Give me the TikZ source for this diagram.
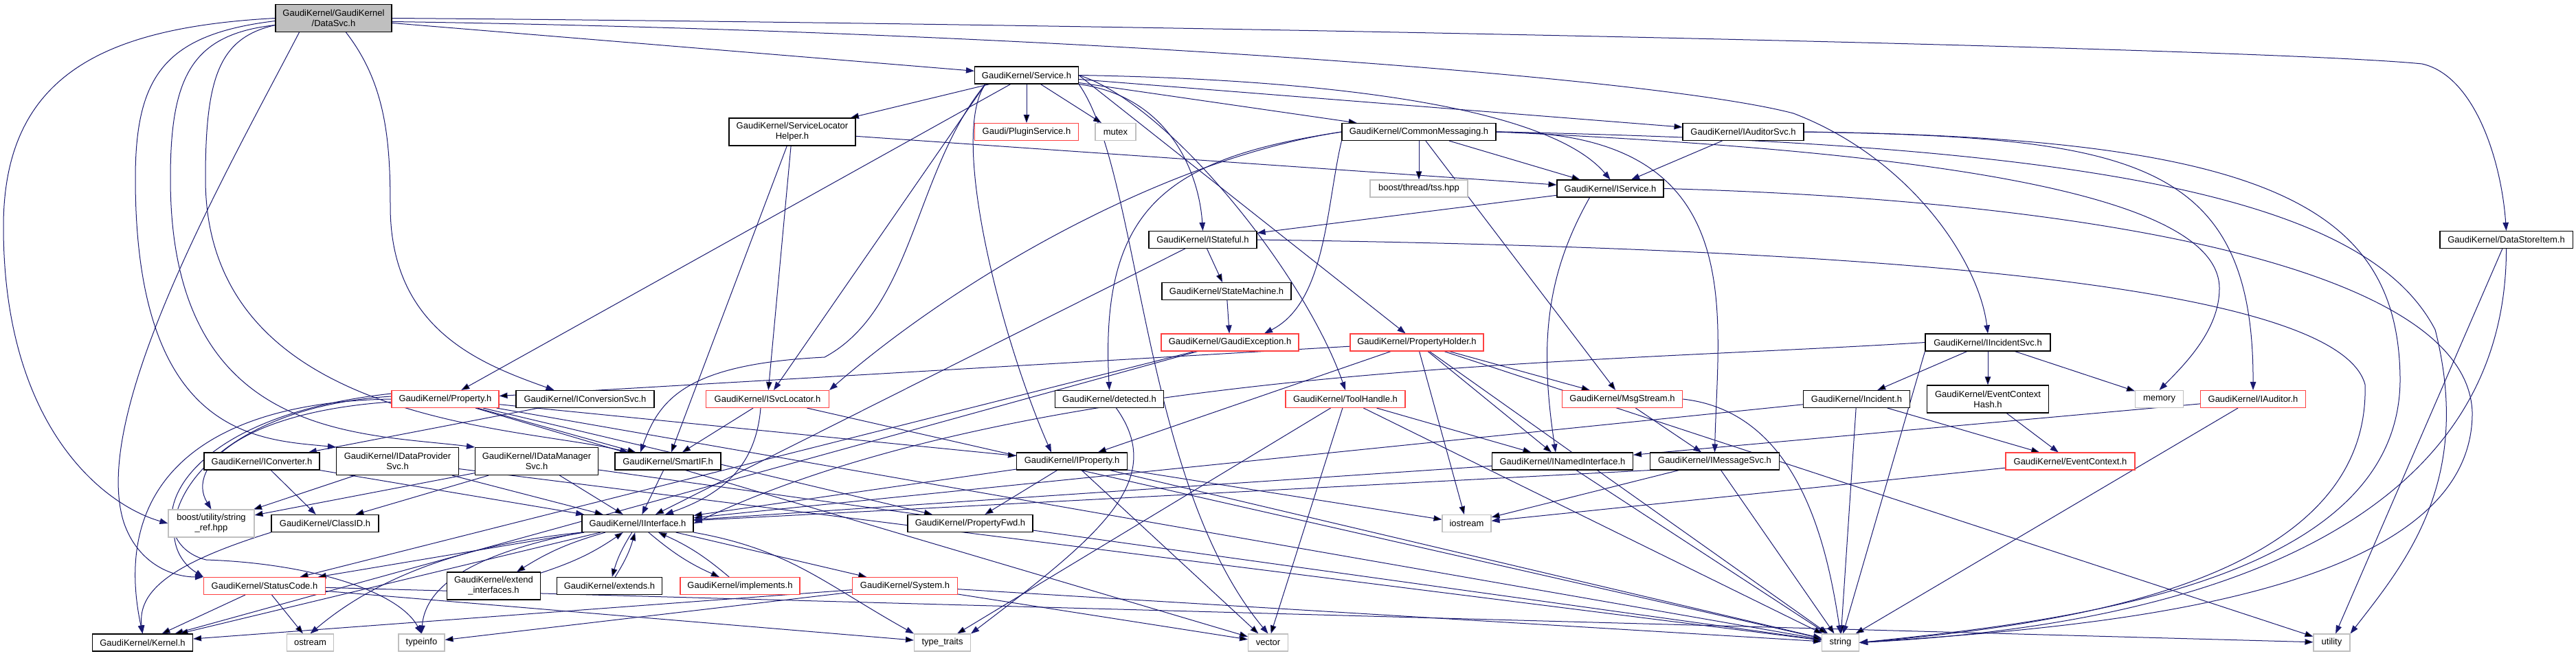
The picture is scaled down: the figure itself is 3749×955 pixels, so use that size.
\documentclass[tikz,border=0pt]{standalone}
\usepackage{fontspec}
\setmainfont{Liberation Sans}
\usetikzlibrary{arrows.meta}
\definecolor{incblue}{RGB}{25,25,112}
\definecolor{cutred}{RGB}{255,64,64}
\definecolor{sysgray}{RGB}{191,191,191}
\pgfdeclarelayer{back}
\pgfsetlayers{back,main}
\tikzset{
  file/.style={draw=black, line width=1.1pt, fill=white, inner sep=0pt,
    minimum height=25pt, align=center, font=\fontsize{13}{15}\selectfont},
  cutfile/.style={file, draw=cutred},
  sysfile/.style={file, draw=sysgray},
  rootfile/.style={file, fill=sysgray},
  tall/.style={minimum height=40pt},
  inc/.style={draw=incblue, line width=1pt, -{Triangle[length=12pt,width=8.5pt]}}
}
\begin{document}
\begin{tikzpicture}[x=1pt,y=-1pt]
    \useasboundingbox (0,0) rectangle (3749,955);
    % headers, row by row
    \node[rootfile, tall, minimum width=169pt] (datasvc) at (485.5,26.5) {GaudiKernel/GaudiKernel\\/DataSvc.h};
    \node[file, minimum width=151pt] (service) at (1494,109.5) {GaudiKernel/Service.h};
    \node[file, tall, minimum width=184pt] (slh) at (1153,192) {GaudiKernel/ServiceLocator\\Helper.h};
    \node[cutfile, minimum width=151pt] (pluginsvc) at (1494,192) {Gaudi/PluginService.h};
    \node[sysfile, minimum width=59pt] (mutex) at (1623.5,192) {mutex};
    \node[file, minimum width=224pt] (commonmsg) at (2065,192) {GaudiKernel/CommonMessaging.h};
    \node[file, minimum width=176pt] (iauditorsvc) at (2537,192) {GaudiKernel/IAuditorSvc.h};
    \node[sysfile, minimum width=142pt] (tss) at (2065,274.5) {boost/thread/tss.hpp};
    \node[file, minimum width=155pt] (iservice) at (2343.5,274.5) {GaudiKernel/IService.h};
    \node[file, minimum width=157pt] (istateful) at (1750.5,349) {GaudiKernel/IStateful.h};
    \node[file, minimum width=193pt] (datastoreitem) at (3647.5,349) {GaudiKernel/DataStoreItem.h};
    \node[file, minimum width=188pt] (statemachine) at (1785,424) {GaudiKernel/StateMachine.h};
    \node[cutfile, minimum width=200pt] (gaudiexc) at (1790,498.5) {GaudiKernel/GaudiException.h};
    \node[cutfile, minimum width=194pt] (propholder) at (2062,498.5) {GaudiKernel/PropertyHolder.h};
    \node[file, minimum width=182pt] (iincidentsvc) at (2893,498.5) {GaudiKernel/IIncidentSvc.h};
    \node[cutfile, minimum width=156pt] (property) at (648,581) {GaudiKernel/Property.h};
    \node[file, minimum width=201pt] (iconvsvc) at (851.5,581) {GaudiKernel/IConversionSvc.h};
    \node[cutfile, minimum width=179pt] (isvcloc) at (1117,581) {GaudiKernel/ISvcLocator.h};
    \node[file, minimum width=158pt] (detected) at (1614.5,581) {GaudiKernel/detected.h};
    \node[cutfile, minimum width=174pt] (toolhandle) at (1958,581) {GaudiKernel/ToolHandle.h};
    \node[cutfile, minimum width=175pt] (msgstream) at (2361,581) {GaudiKernel/MsgStream.h};
    \node[file, minimum width=155pt] (incident) at (2702,581) {GaudiKernel/Incident.h};
    \node[file, tall, minimum width=177pt] (evctxhash) at (2893,581) {GaudiKernel/EventContext\\Hash.h};
    \node[sysfile, minimum width=70pt] (memory) at (3142.5,581) {memory};
    \node[cutfile, minimum width=153pt] (iauditor) at (3279,581) {GaudiKernel/IAuditor.h};
    \node[file, minimum width=168pt] (iconverter) at (381,671.5) {GaudiKernel/IConverter.h};
    \node[file, tall, minimum width=178pt] (idataprov) at (578.5,671.5) {GaudiKernel/IDataProvider\\Svc.h};
    \node[file, tall, minimum width=179pt] (idatamgr) at (781,671.5) {GaudiKernel/IDataManager\\Svc.h};
    \node[file, minimum width=154pt] (smartif) at (972,671.5) {GaudiKernel/SmartIF.h};
    \node[file, minimum width=161pt] (iproperty) at (1560,671.5) {GaudiKernel/IProperty.h};
    \node[file, minimum width=205pt] (inamed) at (2274,671.5) {GaudiKernel/INamedInterface.h};
    \node[file, minimum width=188pt] (imsgsvc) at (2495.5,671.5) {GaudiKernel/IMessageSvc.h};
    \node[cutfile, minimum width=188pt] (evctx) at (3013,671.5) {GaudiKernel/EventContext.h};
    \node[sysfile, tall, minimum width=125pt] (stringref) at (307.5,762) {boost/utility/string\\\_ref.hpp};
    \node[file, minimum width=156pt] (classid) at (473,762) {GaudiKernel/ClassID.h};
    \node[file, minimum width=162pt] (iinterface) at (928,762) {GaudiKernel/IInterface.h};
    \node[file, minimum width=182pt] (propfwd) at (1412,762) {GaudiKernel/PropertyFwd.h};
    \node[sysfile, minimum width=71pt] (iostream) at (2134.5,762) {iostream};
    \node[cutfile, minimum width=177pt] (statuscode) at (385,853) {GaudiKernel/StatusCode.h};
    \node[file, tall, minimum width=136pt] (extendif) at (718.5,853) {GaudiKernel/extend\\\_interfaces.h};
    \node[file, minimum width=153pt] (extends) at (887,853) {GaudiKernel/extends.h};
    \node[cutfile, minimum width=174pt] (implements) at (1077,853) {GaudiKernel/implements.h};
    \node[cutfile, minimum width=153pt] (system) at (1317,853) {GaudiKernel/System.h};
    \node[file, minimum width=146pt] (kernel) at (207.5,935.5) {GaudiKernel/Kernel.h};
    \node[sysfile, minimum width=68pt] (ostream) at (451.5,935.5) {ostream};
    \node[sysfile, minimum width=67pt] (typeinfo) at (613.5,935.5) {typeinfo};
    \node[sysfile, minimum width=82pt] (typetraits) at (1371.5,935.5) {type\_traits};
    \node[sysfile, minimum width=58pt] (vector) at (1845.5,935.5) {vector};
    \node[sysfile, minimum width=54pt] (string) at (2678.5,935.5) {string};
    \node[sysfile, minimum width=53pt] (utility) at (3393.5,935.5) {utility};

    \begin{pgfonlayer}{back}
    % DataSvc.h
    \draw[inc] (datasvc.west) .. controls (150,40) and (5,110) .. (5,330) .. controls (5,620) and (150,735) .. (stringref.west);
    \draw[inc] ([yshift=-4pt]datasvc.west) .. controls (240,50) and (197,110) .. (197,260) .. controls (197,640) and (380,640) .. (idataprov.north west);
    \draw[inc] ([yshift=-10pt]datasvc.west) .. controls (280,50) and (248,110) .. (248,260) .. controls (248,640) and (520,630) .. (idatamgr.north west);
    \draw[inc] ([yshift=-10pt]datasvc.west) .. controls (320,55) and (299,110) .. (299,260) .. controls (299,620) and (760,620) .. ([xshift=20pt]smartif.north west);
    \draw[inc] ([xshift=-50pt]datasvc.south) .. controls (330,250) and (130,600) .. (180,760) .. controls (200,820) and (250,840) .. (statuscode.north west);
    \draw[inc] ([xshift=18pt]datasvc.south) .. controls (560,120) and (568,200) .. (568,300) .. controls (568,480) and (700,530) .. ([xshift=-45pt]iconvsvc.north);
    \draw[inc] (datasvc) -- (service);
    \draw[inc] (datasvc.east) .. controls (1700,35) and (3300,70) .. (3525,93) .. controls (3600,110) and (3640,230) .. (datastoreitem.north);
    \draw[inc] ([yshift=-5pt]datasvc.east) .. controls (1500,45) and (2400,110) .. (2610,165) .. controls (2780,230) and (2880,380) .. (iincidentsvc.north);
    % Service.h
    \draw[inc] (service) edge (slh) edge (pluginsvc) edge (mutex) edge (commonmsg) edge (iauditorsvc) edge (property);
    \draw[inc] ([xshift=-60pt]service.south) -- (isvcloc);
    \draw[inc] (service.east) -- (propholder);
    \draw[inc] ([xshift=-60pt]service.south) .. controls (1380,200) and (1460,500) .. ([xshift=-30pt]iproperty.north);
    \draw[inc] (service.south east) .. controls (1660,250) and (1660,700) .. (vector.north);
    \draw[inc] ([xshift=-60pt]service.south) .. controls (1330,250) and (1330,450) .. (1200,520) .. controls (1000,530) and (960,580) .. ([xshift=-40pt]smartif.north);
    \draw[inc] (service.east) .. controls (1700,150) and (1900,400) .. (toolhandle.north);
    \draw[inc] (service.east) .. controls (1900,115) and (2250,150) .. (iservice.north);
    \draw[inc] (service.south east) .. controls (1700,140) and (1745,250) .. (istateful.north);
    % ServiceLocatorHelper.h
    \draw[inc] (slh) edge (isvcloc) edge (iservice) edge (smartif);
    % CommonMessaging.h
    \draw[inc] (commonmsg) edge (iservice) edge (msgstream) edge (tss);
    \draw[inc] (commonmsg.west) .. controls (1700,230) and (1400,400) .. (isvcloc.north east);
    \draw[inc] (commonmsg.west) .. controls (1700,230) and (1600,300) .. (detected.north);
    \draw[inc] (commonmsg.south west) .. controls (1930,300) and (1930,440) .. ([xshift=50pt]gaudiexc.north);
    \draw[inc] (commonmsg.east) .. controls (2550,190) and (2500,450) .. (imsgsvc.north);
    \draw[inc] (commonmsg.east) .. controls (2800,220) and (3230,280) .. (3230,420) .. controls (3230,480) and (3180,530) .. (memory.north);
    \draw[inc] (commonmsg.east) .. controls (3100,210) and (3450,300) .. (3544,480) .. controls (3600,700) and (3500,820) .. (utility.north east);
    % IAuditorSvc.h, IService.h, IStateful.h
    \draw[inc] (iauditorsvc) -- (iservice);
    \draw[inc] (iauditorsvc.east) .. controls (3100,200) and (3280,230) .. (iauditor.north);
    \draw[inc] (iauditorsvc.east) .. controls (3300,200) and (3490,300) .. (3493,550) .. controls (3495,850) and (3000,905) .. (string.east);
    \draw[inc] (iservice) -- (istateful);
    \draw[inc] ([xshift=-30pt]iservice.south) .. controls (2250,400) and (2240,500) .. ([xshift=-10pt]inamed.north);
    \draw[inc] (iservice.east) .. controls (3000,290) and (3590,380) .. (3598,600) .. controls (3600,880) and (3000,915) .. (string.east);
    \draw[inc] (istateful) edge (iinterface) edge (statemachine);
    \draw[inc] (istateful.east) .. controls (2600,360) and (3400,400) .. (3442,560) .. controls (3450,850) and (3000,910) .. (string.east);
    \draw[inc] (statemachine) -- (gaudiexc);
    \draw[inc] (gaudiexc) edge (kernel) edge (statuscode);
    % PropertyHolder.h
    \draw[inc] (propholder) edge (iproperty) edge (property) edge (msgstream) edge (inamed) edge (iostream) edge (string) edge (utility);
    % IIncidentSvc.h and the incident headers
    \draw[inc] (iincidentsvc) edge (incident) edge (evctxhash) edge (memory);
    \draw[inc] (iincidentsvc.south west) -- (string);
    \draw[inc] (iincidentsvc.west) .. controls (2300,530) and (1500,530) .. (iinterface.east);
    \draw[inc] (incident) edge (evctx) edge (string) edge (iinterface);
    \draw[inc] (evctxhash) -- (evctx);
    \draw[inc] (evctx) -- (iostream);
    \draw[inc] (iauditor) edge (inamed) edge (string);
    % converters and data services
    \draw[inc] (iconvsvc) -- (iconverter);
    \draw[inc] (iconverter) -- (classid);
    \draw[inc] (iconverter.south east) -- (iinterface);
    \draw[inc] (idataprov) edge (stringref) edge (iinterface) edge (string);
    \draw[inc] (idatamgr) edge (stringref) edge (classid) edge (iinterface) edge (string);
    \draw[inc] (classid.south west) .. controls (250,820) and (200,860) .. (kernel.north);
    \draw[inc] (smartif) -- (iinterface);
    \draw[inc] (isvcloc) edge (smartif) edge (string);
    \draw[inc] ([xshift=-10pt]isvcloc.south) .. controls (1100,680) and (1050,720) .. ([xshift=40pt]iinterface.north);
    % properties
    \draw[inc] (iproperty) edge (iinterface) edge (propfwd) edge (iostream) edge (string) edge (vector);
    \draw[inc] (property) edge (iproperty) edge (propfwd) edge (smartif) edge (string) edge (vector);
    \draw[inc] (property.west) .. controls (300,585) and (160,700) .. (kernel.north);
    \draw[inc] ([yshift=4pt]property.west) .. controls (280,595) and (200,780) .. (statuscode.north west);
    \draw[inc] ([yshift=-4pt]property.west) .. controls (350,600) and (270,680) .. (stringref.north);
    \draw[inc] ([yshift=8pt]property.west) .. controls (230,610) and (200,790) .. (300,815) .. controls (450,820) and (580,860) .. (typeinfo.north);
    % messaging
    \draw[inc] (inamed) edge (iinterface) edge (string);
    \draw[inc] (imsgsvc.south west) -- (iinterface);
    \draw[inc] (imsgsvc) edge (iostream) edge (string);
    \draw[inc] (msgstream) -- (imsgsvc);
    \draw[inc] (msgstream.east) .. controls (2620,600) and (2660,800) .. (string.north);
    \draw[inc] (toolhandle) edge (inamed) edge (typetraits) edge (string) edge (vector);
    \draw[inc] ([xshift=10pt]detected.south) .. controls (1700,700) and (1600,780) .. (typetraits.north east);
    % low level headers
    \draw[inc] (system) edge (kernel) edge (typeinfo) edge (string) edge (vector);
    \draw[inc] (statuscode) edge (kernel) edge (ostream) edge (typetraits) edge (utility);
    \draw[inc] (iinterface) edge (kernel) edge (statuscode) edge (system);
    \draw[inc] (iinterface.south west) .. controls (700,790) and (560,830) .. (ostream.north);
    \draw[inc] (iinterface.south west) .. controls (720,800) and (620,840) .. (typeinfo.north);
    \draw[inc] (iinterface.south east) .. controls (1150,800) and (1200,850) .. (typetraits.north west);
    \draw[inc] (iinterface) edge[bend right=8] (extendif) edge[bend right=8] (extends) edge[bend right=8] (implements);
    \draw[inc] (extendif) edge[bend right=8] (iinterface);
    \draw[inc] (extends) edge[bend right=8] (iinterface);
    \draw[inc] (implements) edge[bend right=8] (iinterface);
    \draw[inc] (datastoreitem.south) .. controls (3648,850) and (3000,920) .. (string.east);
    \draw[inc] (datastoreitem) -- (utility);
    \end{pgfonlayer}
\end{tikzpicture}
\end{document}
